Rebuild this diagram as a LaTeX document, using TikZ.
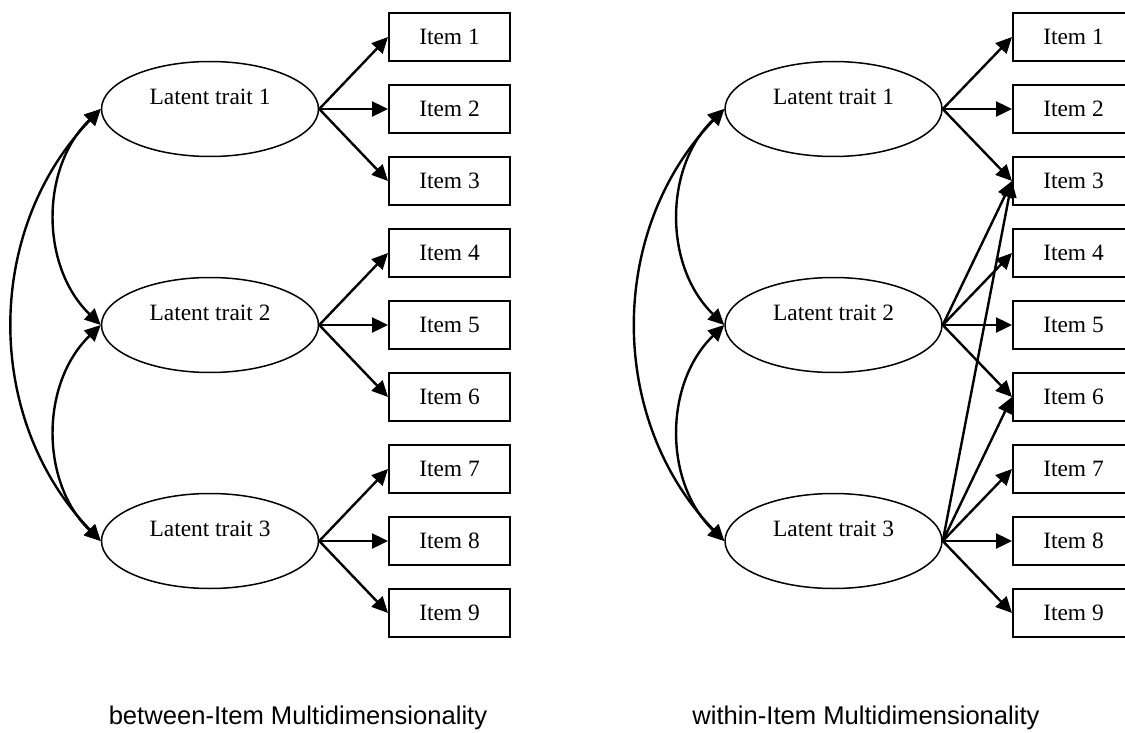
\documentclass[tikz,border=0pt]{standalone}
\usepackage{fontspec}
\setmainfont{Liberation Serif}
\newfontfamily\capfont{Liberation Sans}
\usetikzlibrary{arrows.meta,positioning,shapes.geometric}

\begin{document}
\begin{tikzpicture}[
  x=0.5pt,y=-0.5pt,
  node distance=11pt,
  latent/.style={ellipse,draw,line width=0.75pt,minimum width=108.5pt,minimum height=47.5pt,
                 inner sep=0pt,text depth=12pt,font=\fontsize{11.7}{14}\selectfont},
  item/.style={draw,line width=1pt,minimum width=60.5pt,minimum height=24pt,
               inner sep=0pt,font=\fontsize{11.7}{14}\selectfont},
  arrow/.style={-{Triangle[length=8pt,width=7.5pt]},line width=1.2pt},
  corr/.style={{Triangle[length=8pt,width=7.5pt]}-{Triangle[length=8pt,width=7.5pt]},line width=1.2pt},
  caption/.style={font=\capfont\fontsize{12.8}{15}\selectfont,anchor=base}
]
  \useasboundingbox (0,0) rectangle (1125,733);
  % between-item model
  \node[latent] (l1) at (210,109) {Latent trait 1};
  \node[latent] (l2) at (210,325) {Latent trait 2};
  \node[latent] (l3) at (210,541) {Latent trait 3};
  \node[item] (a1) at (449.5,37) {Item 1};
  \node[item,below=of a1] (a2) {Item 2};
  \node[item,below=of a2] (a3) {Item 3};
  \node[item,below=of a3] (a4) {Item 4};
  \node[item,below=of a4] (a5) {Item 5};
  \node[item,below=of a5] (a6) {Item 6};
  \node[item,below=of a6] (a7) {Item 7};
  \node[item,below=of a7] (a8) {Item 8};
  \node[item,below=of a8] (a9) {Item 9};
  \draw[arrow] (l1.east) -- (a1.west);
  \draw[arrow] (l1.east) -- (a2.west);
  \draw[arrow] (l1.east) -- (a3.west);
  \draw[arrow] (l2.east) -- (a4.west);
  \draw[arrow] (l2.east) -- (a5.west);
  \draw[arrow] (l2.east) -- (a6.west);
  \draw[arrow] (l3.east) -- (a7.west);
  \draw[arrow] (l3.east) -- (a8.west);
  \draw[arrow] (l3.east) -- (a9.west);
  \draw[corr] (l1.west) to[bend right=46] (l2.west);
  \draw[corr] (l2.west) to[bend right=46] (l3.west);
  \draw[corr] (l1.west) to[bend right=44] (l3.west);
  \node[caption] (capa) at (298,724) {between-Item Multidimensionality};

  % within-item model
  \node[latent] (r1) at (833.5,109) {Latent trait 1};
  \node[latent] (r2) at (833.5,325) {Latent trait 2};
  \node[latent] (r3) at (833.5,541) {Latent trait 3};
  \node[item] (b1) at (1073.5,37) {Item 1};
  \node[item,below=of b1] (b2) {Item 2};
  \node[item,below=of b2] (b3) {Item 3};
  \node[item,below=of b3] (b4) {Item 4};
  \node[item,below=of b4] (b5) {Item 5};
  \node[item,below=of b5] (b6) {Item 6};
  \node[item,below=of b6] (b7) {Item 7};
  \node[item,below=of b7] (b8) {Item 8};
  \node[item,below=of b8] (b9) {Item 9};
  \draw[arrow] (r1.east) -- (b1.west);
  \draw[arrow] (r1.east) -- (b2.west);
  \draw[arrow] (r1.east) -- (b3.west);
  \draw[arrow] (r2.east) -- (b3.west);
  \draw[arrow] (r2.east) -- (b4.west);
  \draw[arrow] (r2.east) -- (b5.west);
  \draw[arrow] (r2.east) -- (b6.west);
  \draw[arrow] (r3.east) -- (b3.west);
  \draw[arrow] (r3.east) -- (b6.west);
  \draw[arrow] (r3.east) -- (b7.west);
  \draw[arrow] (r3.east) -- (b8.west);
  \draw[arrow] (r3.east) -- (b9.west);
  \draw[corr] (r1.west) to[bend right=46] (r2.west);
  \draw[corr] (r2.west) to[bend right=46] (r3.west);
  \draw[corr] (r1.west) to[bend right=44] (r3.west);
  \node[caption] (capb) at (866,724) {within-Item Multidimensionality};
\end{tikzpicture}
\end{document}
